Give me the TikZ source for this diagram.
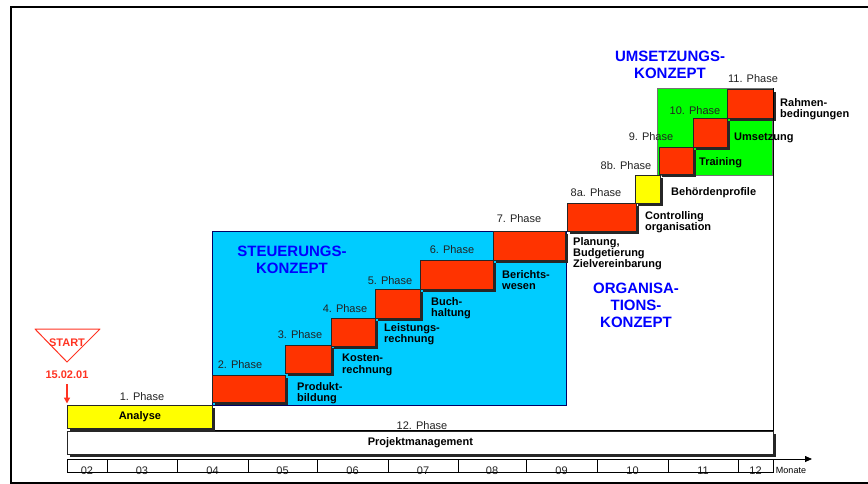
\documentclass[tikz,border=0pt]{standalone}
\usepackage{fontspec}
\setmainfont{Liberation Sans}
\usetikzlibrary{shadows,arrows.meta}
\definecolor{pred}{HTML}{FF3300}
\definecolor{pyel}{HTML}{FFFF00}
\definecolor{pgrn}{HTML}{00FF00}
\definecolor{pcyan}{HTML}{00CCFF}
\definecolor{ptitle}{HTML}{0000FF}
\definecolor{pgray}{HTML}{222222}
\definecolor{pstart}{HTML}{FF3322}
\tikzset{
  bx/.style={draw=black!85, line width=0.8pt, inner sep=0pt, anchor=north west,
    drop shadow={shadow xshift=2.5pt, shadow yshift=-2.5pt, fill=black!85, opacity=1}},
  redbox/.style={bx, fill=pred},
  phase/.style={font=\fontsize{11}{12}\selectfont, text=pgray, inner sep=0pt},
  lbl/.style={font=\fontsize{11}{11.5}\selectfont\bfseries, align=left, inner sep=0pt, anchor=west},
  ttl/.style={font=\fontsize{15}{17}\selectfont\bfseries, text=ptitle, align=center, inner sep=0pt},
  monthbox/.style={draw, line width=0.6pt, inner sep=0pt, anchor=north west, minimum height=13pt},
  monthtxt/.style={font=\fontsize{11}{12}\selectfont, text=pgray, inner sep=0pt, anchor=base},
  redtxt/.style={font=\fontsize{11}{12}\selectfont\bfseries, text=pstart, inner sep=0pt},
}
\begin{document}
\begin{tikzpicture}[x=1pt,y=-1pt]
\useasboundingbox (0,0) rectangle (868,484);
% outer frame
\draw[line width=1.6pt] (868,7) -- (11,7) -- (11,483) -- (868,483);

% organisation box outline
\draw[line width=0.8pt] (212,405) -- (212,430) -- (773,430) -- (773,118);

% Steuerungskonzept box
\node[draw=black!60!blue, line width=0.8pt, fill=pcyan, anchor=north west, inner sep=0pt,
  minimum width=354pt, minimum height=174pt] (stbox) at (212,231) {};

% Umsetzungskonzept box
\node[draw=black!55, line width=1.2pt, fill=pgrn, anchor=north west, inner sep=0pt,
  minimum width=115pt, minimum height=87pt] (umbox) at (657,88) {};

% titles
\node[ttl] (tst) at (292,260) {STEUERUNGS-\\KONZEPT};
\node[ttl] (torg) at (636,305) {ORGANISA-\\TIONS-\\KONZEPT};
\node[ttl] (tum) at (670,65) {UMSETZUNGS-\\KONZEPT};

% phase boxes
\node[bx, fill=pyel, minimum width=145pt, minimum height=23pt,
  font=\fontsize{11}{12}\selectfont\bfseries] (an) at (67,405) {Analyse};
\node[redbox, minimum width=73pt, minimum height=27pt] (r2) at (212,375) {};
\node[redbox, minimum width=46pt, minimum height=28pt] (r3) at (285,345) {};
\node[redbox, minimum width=44pt, minimum height=28pt] (r4) at (331,318) {};
\node[redbox, minimum width=45pt, minimum height=29pt] (r5) at (375,289) {};
\node[redbox, minimum width=73pt, minimum height=29pt] (r6) at (420,260) {};
\node[redbox, minimum width=72pt, minimum height=29pt] (r7) at (493,231) {};
\node[redbox, minimum width=69pt, minimum height=28pt] (r8a) at (567,203) {};
\node[bx, fill=pyel, minimum width=25pt, minimum height=28pt] (y8b) at (635,175) {};
\node[redbox, minimum width=34pt, minimum height=27pt] (r9) at (659,147) {};
\node[redbox, minimum width=34pt, minimum height=29pt] (r10) at (693,118) {};
\node[redbox, minimum width=46pt, minimum height=29pt] (r11) at (727,89) {};

% Projektmanagement
\node[bx, fill=white, minimum width=706pt, minimum height=23pt,
  font=\fontsize{11}{12}\selectfont\bfseries] (pm) at (67,431) {Projektmanagement};

% phase labels
\node[phase] (p1) at (142,397) {1. Phase};
\node[phase] (p2) at (240,365) {2. Phase};
\node[phase] (p3) at (300,335) {3. Phase};
\node[phase] (p4) at (345,309) {4. Phase};
\node[phase] (p5) at (390,281) {5. Phase};
\node[phase] (p6) at (452,250) {6. Phase};
\node[phase] (p7) at (519,219) {7. Phase};
\node[phase] (p8a) at (596,193) {8a. Phase};
\node[phase] (p8b) at (626,166) {8b. Phase};
\node[phase] (p9) at (651,137) {9. Phase};
\node[phase] (p10) at (695,111) {10. Phase};
\node[phase] (p11) at (753,79) {11. Phase};
\node[phase] (p12) at (422,426) {12. Phase};

% step labels
\node[lbl] (l2) at (297,393) {Produkt-\\bildung};
\node[lbl] (l3) at (342,365) {Kosten-\\rechnung};
\node[lbl] (l4) at (384,334) {Leistungs-\\rechnung};
\node[lbl] (l5) at (431,308) {Buch-\\haltung};
\node[lbl] (l6) at (502,280) {Berichts-\\wesen};
\node[lbl, font=\fontsize{11}{11}\selectfont\bfseries] (l7) at (573,254) {Planung,\\Budgetierung\\Zielvereinbarung};
\node[lbl] (l8a) at (645,222) {Controlling\\organisation};
\node[lbl] (l8b) at (671,193) {Behördenprofile};
\node[lbl] (l9) at (699,163) {Training};
\node[lbl] (l10) at (734,138) {Umsetzung};
\node[lbl] (l11) at (780,109) {Rahmen-\\bedingungen};

% right edge line over the label
\draw[line width=0.8pt] (umbox.north east) -- (umbox.south east);

% START marker
\draw[pstart, line width=1pt, line join=round] (35,329) -- (100,329) -- (67,362) -- cycle;
\node[redtxt] (start) at (67,343) {START};
\node[redtxt] (date) at (67,375) {15.02.01};
\draw[pstart, line width=1.3pt, -{Triangle[length=6pt,width=6pt]}, shorten <=5pt, shorten >=1.5pt]
  (date.south) -- (an.north west);

% month scale
\foreach \a/\b/\t [count=\i] in {67/107/02,107/177/03,177/248/04,248/317/05,317/388/06,
  388/458/07,458/526/08,526/597/09,597/668/10,668/738/11,738/773/12}{
  \node[monthtxt] (mt\i) at ({(\a+\b)/2},474) {\t};
  \node[monthbox, minimum width={(\b-\a)*1pt}] (m\i) at (\a,459) {};
}
\coordinate (tend) at (812,459);
\draw[line width=0.8pt, -{Triangle[length=7pt,width=6pt]}] (m11.north east) -- (tend);
\node[font=\fontsize{9}{10}\selectfont, inner sep=0pt] (monate) at (791,470) {Monate};
\end{tikzpicture}
\end{document}
